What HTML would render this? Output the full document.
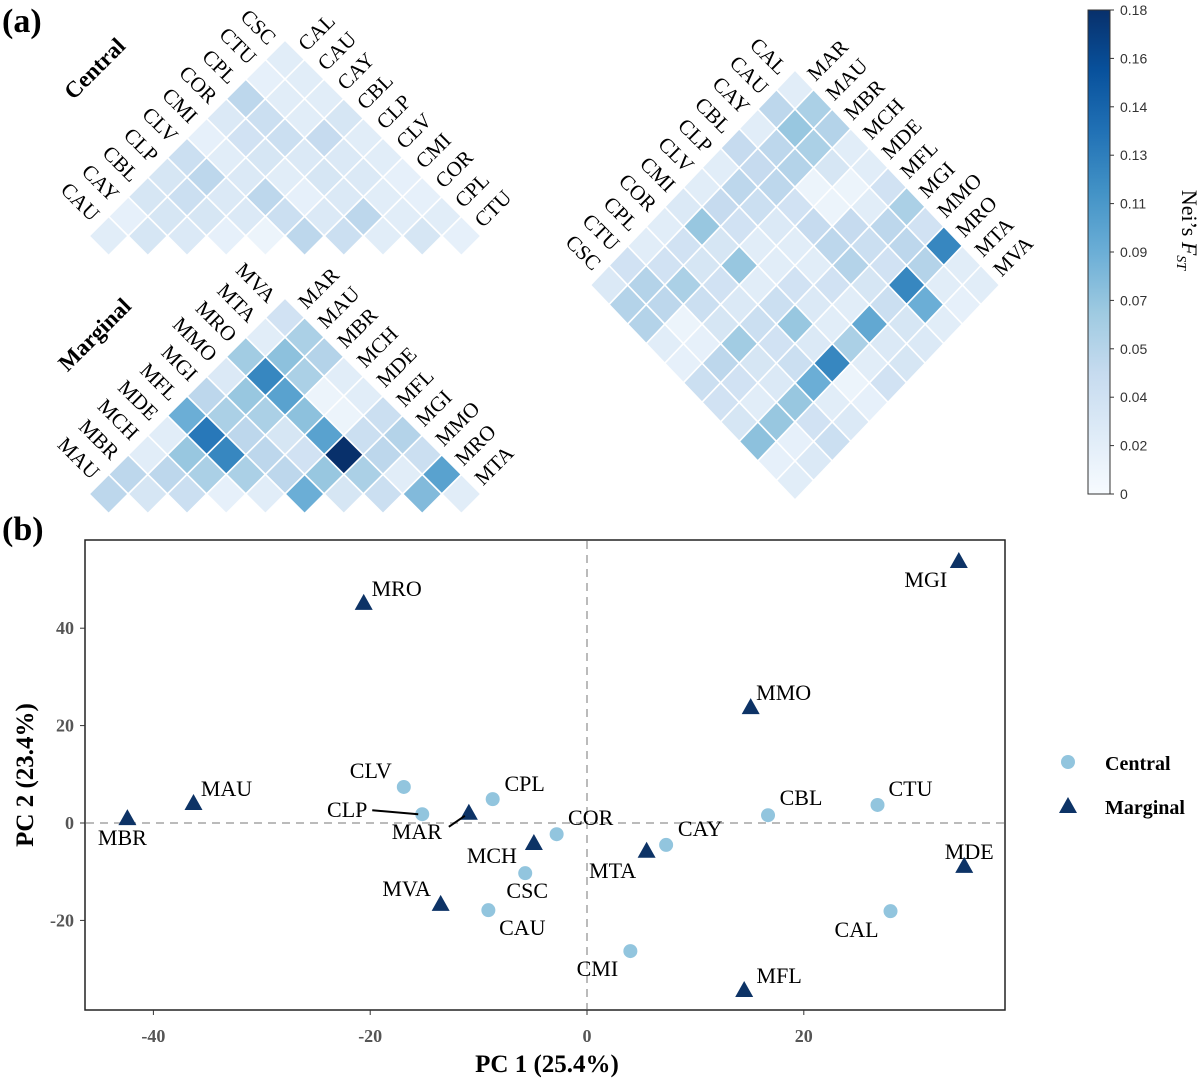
<!DOCTYPE html>
<html><head><meta charset="utf-8"><style>
body{margin:0;background:#fff;}
svg{display:block;font-family:"Liberation Serif",serif;}
</style></head><body>
<svg id="fig" width="1200" height="1080" viewBox="0 0 1200 1080"></svg>
<script>
const centralPops=["CSC","CTU","CPL","COR","CMI","CLV","CLP","CBL","CAY","CAU"];
const centralCols=["CAL","CAU","CAY","CBL","CLP","CLV","CMI","COR","CPL","CTU"];
const centralFst=[
[.02,.02,.02,.03,.02,.02,.015,.015,.02,.015],
[.015,.02,.02,.045,.025,.025,.02,.02,.03],
[.05,.04,.04,.025,.03,.025,.05,.02],
[.025,.035,.03,.02,.015,.025,.04],
[.015,.02,.025,.05,.04,.05],
[.04,.05,.025,.025,.01],
[.03,.04,.03,.015],
[.03,.03,.025],
[.015,.03],
[.02]];
const marginalPops=["MVA","MTA","MRO","MMO","MGI","MFL","MDE","MCH","MBR","MAU"];
const marginalCols=["MAR","MAU","MBR","MCH","MDE","MFL","MGI","MMO","MRO","MTA"];
const marginalFst=[
[.035,.06,.055,.02,.02,.04,.055,.04,.1,.02],
[.02,.075,.06,.01,.01,.04,.05,.02,.08],
[.065,.12,.1,.075,.1,.18,.06,.04],
[.025,.07,.06,.03,.035,.07,.03],
[.05,.06,.05,.05,.05,.09],
[.09,.13,.12,.06,.02],
[.02,.07,.06,.015],
[.02,.05,.04],
[.05,.03],
[.05]];
const crossRows=["CAL","CAU","CAY","CBL","CLP","CLV","CMI","COR","CPL","CTU","CSC"];
const crossCols=["MAR","MAU","MBR","MCH","MDE","MFL","MGI","MMO","MRO","MTA","MVA"];
const crossFst=[
[.02,.06,.055,.02,.02,.035,.06,.035,.12,.02,.02],
[.05,.07,.06,.03,.01,.02,.05,.05,.055,.02,.015],
[.02,.05,.055,.01,.01,.045,.04,.035,.12,.09,.02],
[.045,.045,.05,.035,.045,.05,.055,.03,.04,.03,.025],
[.02,.05,.04,.025,.02,.02,.035,.02,.095,.025,.03],
[.02,.045,.035,.02,.02,.035,.025,.02,.06,.02,.035],
[.025,.07,.03,.07,.02,.04,.07,.025,.12,.01,.015],
[.02,.035,.03,.035,.025,.04,.035,.04,.09,.02,.025],
[.02,.035,.06,.04,.03,.065,.03,.025,.07,.035,.04],
[.035,.055,.05,.01,.015,.05,.035,.02,.07,.015,.025],
[.025,.055,.055,.02,.015,.04,.035,.03,.075,.015,.02]];
const cbarTicks=["0","0.02","0.04","0.05","0.07","0.09","0.11","0.13","0.14","0.16","0.18"];
const pcaNames=["CLV","CLP","CPL","COR","CSC","CAU","CMI","CAY","CBL","CTU","CAL","MRO","MGI","MMO","MAU","MBR","MAR","MCH","MTA","MDE","MVA","MFL"];
const pcaGroup=["C","C","C","C","C","C","C","C","C","C","C","M","M","M","M","M","M","M","M","M","M","M"];
const pc1=[-16.9,-15.2,-8.7,-2.8,-5.7,-9.1,4.0,7.3,16.7,26.8,28.0,-20.6,34.3,15.1,-36.3,-42.4,-10.9,-4.9,5.5,34.8,-13.5,14.5];
const pc2=[7.4,1.8,4.9,-2.3,-10.3,-17.9,-26.3,-4.5,1.6,3.7,-18.1,45.2,53.8,23.8,4.1,1.0,2.1,-4.1,-5.7,-8.8,-16.6,-34.3];
const xTicks=[-40,-20,0,20];
const yTicks=[-20,0,20,40];

const svg=document.getElementById('fig');
const NS='http://www.w3.org/2000/svg';
function mk(tag,attrs,parent){const e=document.createElementNS(NS,tag);for(const k in attrs)e.setAttribute(k,attrs[k]);(parent||svg).appendChild(e);return e;}
const stops=["#f7fbff","#deebf7","#c6dbef","#9ecae1","#6baed6","#4292c6","#2171b5","#08519c","#08306b"];
function hex(h){return [1,3,5].map(i=>parseInt(h.substr(i,2),16));}
function color(v){let t=Math.max(0,Math.min(1,v/0.18))*(stops.length-1);const i=Math.min(stops.length-2,Math.floor(t));const f=t-i;const a=hex(stops[i]),b=hex(stops[i+1]);return 'rgb('+a.map((c,j)=>Math.round(c+(b[j]-c)*f)).join(',')+')';}

function heat(name,apexX,topY,hx,hy,mat,leftLabels,rightLabels){
  const g=mk('g',{});
  
  
  mat.forEach((row,a)=>row.forEach((v,b)=>{
    const cx=apexX+(b-a)*hx, cy=topY+hy+(a+b)*hy;
    const p=mk('polygon',{points:`${cx},${cy-hy} ${cx+hx},${cy} ${cx},${cy+hy} ${cx-hx},${cy}`,fill:color(v),stroke:'#fff','stroke-width':1.6},g);
    
    
  }));
  leftLabels.forEach((l,a)=>{
    const x=apexX+(-1-a)*hx+2, y=topY+hy+(a-1)*hy+6;
    const t=mk('text',{x:x,y:y,'font-size':21,'text-anchor':'end',transform:`rotate(45 ${x} ${y})`},g);
    t.textContent=l;
    
    
  });
  rightLabels.forEach((l,b)=>{
    const x=apexX+(b+1)*hx+2, y=topY+hy+(b-1)*hy+12;
    const t=mk('text',{x:x,y:y,'font-size':21,'text-anchor':'start',transform:`rotate(-45 ${x} ${y})`},g);
    t.textContent=l;
    
    
  });
}
heat('central-heatmap',285,40,19.6,19.6,centralFst,centralPops,centralCols);
heat('marginal-heatmap',285,298,19.6,19.6,marginalFst,marginalPops,marginalCols);
heat('cross-heatmap',795,70,18.6,19.55,crossFst,crossRows,crossCols);

function txt(s,x,y,attrs,name){const t=mk('text',Object.assign({x:x,y:y},attrs));t.textContent=s;return t;}
txt('(a)',2,32,{'font-size':34,'font-weight':'bold'},'panel-label-a');
txt('(b)',2,540,{'font-size':34,'font-weight':'bold'},'panel-label-b');
txt('Central',100,74,{'font-size':23,'font-weight':'bold','text-anchor':'middle',transform:'rotate(-45 100 74)'},'central-title');
txt('Marginal',100,340,{'font-size':23,'font-weight':'bold','text-anchor':'middle',transform:'rotate(-45 100 340)'},'marginal-title');

// colorbar
const defs=mk('defs',{});
const lg=mk('linearGradient',{id:'cb',x1:0,y1:1,x2:0,y2:0},defs);
stops.forEach((s,i)=>mk('stop',{offset:i/(stops.length-1),'stop-color':s},lg));
const cb=mk('rect',{x:1088,y:10,width:22,height:484,fill:'url(#cb)',stroke:'#333','stroke-width':1});


cbarTicks.forEach((l,i)=>{const y=494-i*48.4;
  const tk=mk('line',{x1:1110,x2:1114,y1:y,y2:y,stroke:'#333'});
  
  
  txt(l,1120,y+5,{'font-size':14,'font-family':'Liberation Sans, sans-serif',fill:'#333'},'colorbar-tick-label');});
const nt=txt('',1182,230,{'font-size':22,'text-anchor':'middle',transform:'rotate(90 1182 230)'},'colorbar-title');
nt.innerHTML='Nei’s <tspan font-style="italic">F</tspan><tspan font-style="italic" font-size="14" dy="5">ST</tspan>';

// PCA
const X0=587,XS=10.84,Y0=823,YS=4.87;
const sx=v=>X0+v*XS, sy=v=>Y0-v*YS;
const frame=mk('rect',{x:85,y:540,width:920,height:470,fill:'none',stroke:'#222','stroke-width':1.5});


const vl=mk('line',{x1:sx(0),x2:sx(0),y1:541,y2:1009,stroke:'#bbb','stroke-width':2,'stroke-dasharray':'8,6'});


const hl=mk('line',{x1:86,x2:1004,y1:sy(0),y2:sy(0),stroke:'#bbb','stroke-width':2,'stroke-dasharray':'8,6'});


xTicks.forEach(v=>{const x=sx(v);
  const tk=mk('line',{x1:x,x2:x,y1:1010,y2:1015,stroke:'#333'});
  
  
  txt(String(v),x,1042,{'font-size':18,'font-weight':'bold','text-anchor':'middle',fill:'#555'},'x-tick-label');});
yTicks.forEach(v=>{const y=sy(v);
  const tk=mk('line',{x1:80,x2:85,y1:y,y2:y,stroke:'#333'});
  
  
  txt(String(v),74,y+6,{'font-size':18,'font-weight':'bold','text-anchor':'end',fill:'#555'},'y-tick-label');});
txt('PC 1 (25.4%)',547,1072,{'font-size':25,'font-weight':'bold','text-anchor':'middle'},'x-axis-title');
txt('PC 2 (23.4%)',33,775,{'font-size':25,'font-weight':'bold','text-anchor':'middle',transform:'rotate(-90 33 775)'},'y-axis-title');

const labelOff={CLV:[-33,-16],CLP:[-75,-4],CPL:[32,-15],COR:[34,-16],CSC:[2,18],CAU:[34,18],CMI:[-33,18],CAY:[34,-16],CBL:[33,-17],CTU:[33,-16],CAL:[-34,19],
MRO:[33,-14],MGI:[-33,19],MMO:[33,-14],MAU:[33,-14],MBR:[-5,20],MAR:[-52,19],MCH:[-42,13],MTA:[-34,20],MDE:[5,-14],MVA:[-34,-15],MFL:[35,-14]};
pc1.forEach((v,i)=>{const x=sx(v),y=sy(pc2[i]);const n=pcaNames[i];
  let m;
  if(pcaGroup[i]==='C'){m=mk('circle',{cx:x,cy:y,r:7,fill:'#92c5de'});}
  else{m=mk('polygon',{points:`${x},${y-9} ${x+9},${y+7} ${x-9},${y+7}`,fill:'#0d3366'});}
  
  
  const o=labelOff[n];
  txt(n,x+o[0],y+o[1]+7,{'font-size':22,'text-anchor':'middle'},'point-label-'+n);
  if(n==='CLP'){const l=mk('line',{x1:x-50,y1:y-4,x2:x-4,y2:y,stroke:'#000','stroke-width':2});}
  if(n==='MAR'){const l=mk('line',{x1:x-20,y1:y+14,x2:x-4,y2:y+3,stroke:'#000','stroke-width':2});}
});
// legend
const lc=mk('circle',{cx:1068,cy:762,r:7,fill:'#92c5de'});


txt('Central',1105,770,{'font-size':20,'font-weight':'bold'},'legend-central-label');
const lt=mk('polygon',{points:'1068,797 1077,813 1059,813',fill:'#0d3366'});


txt('Marginal',1105,814,{'font-size':20,'font-weight':'bold'},'legend-marginal-label');
</script>
</body></html>
